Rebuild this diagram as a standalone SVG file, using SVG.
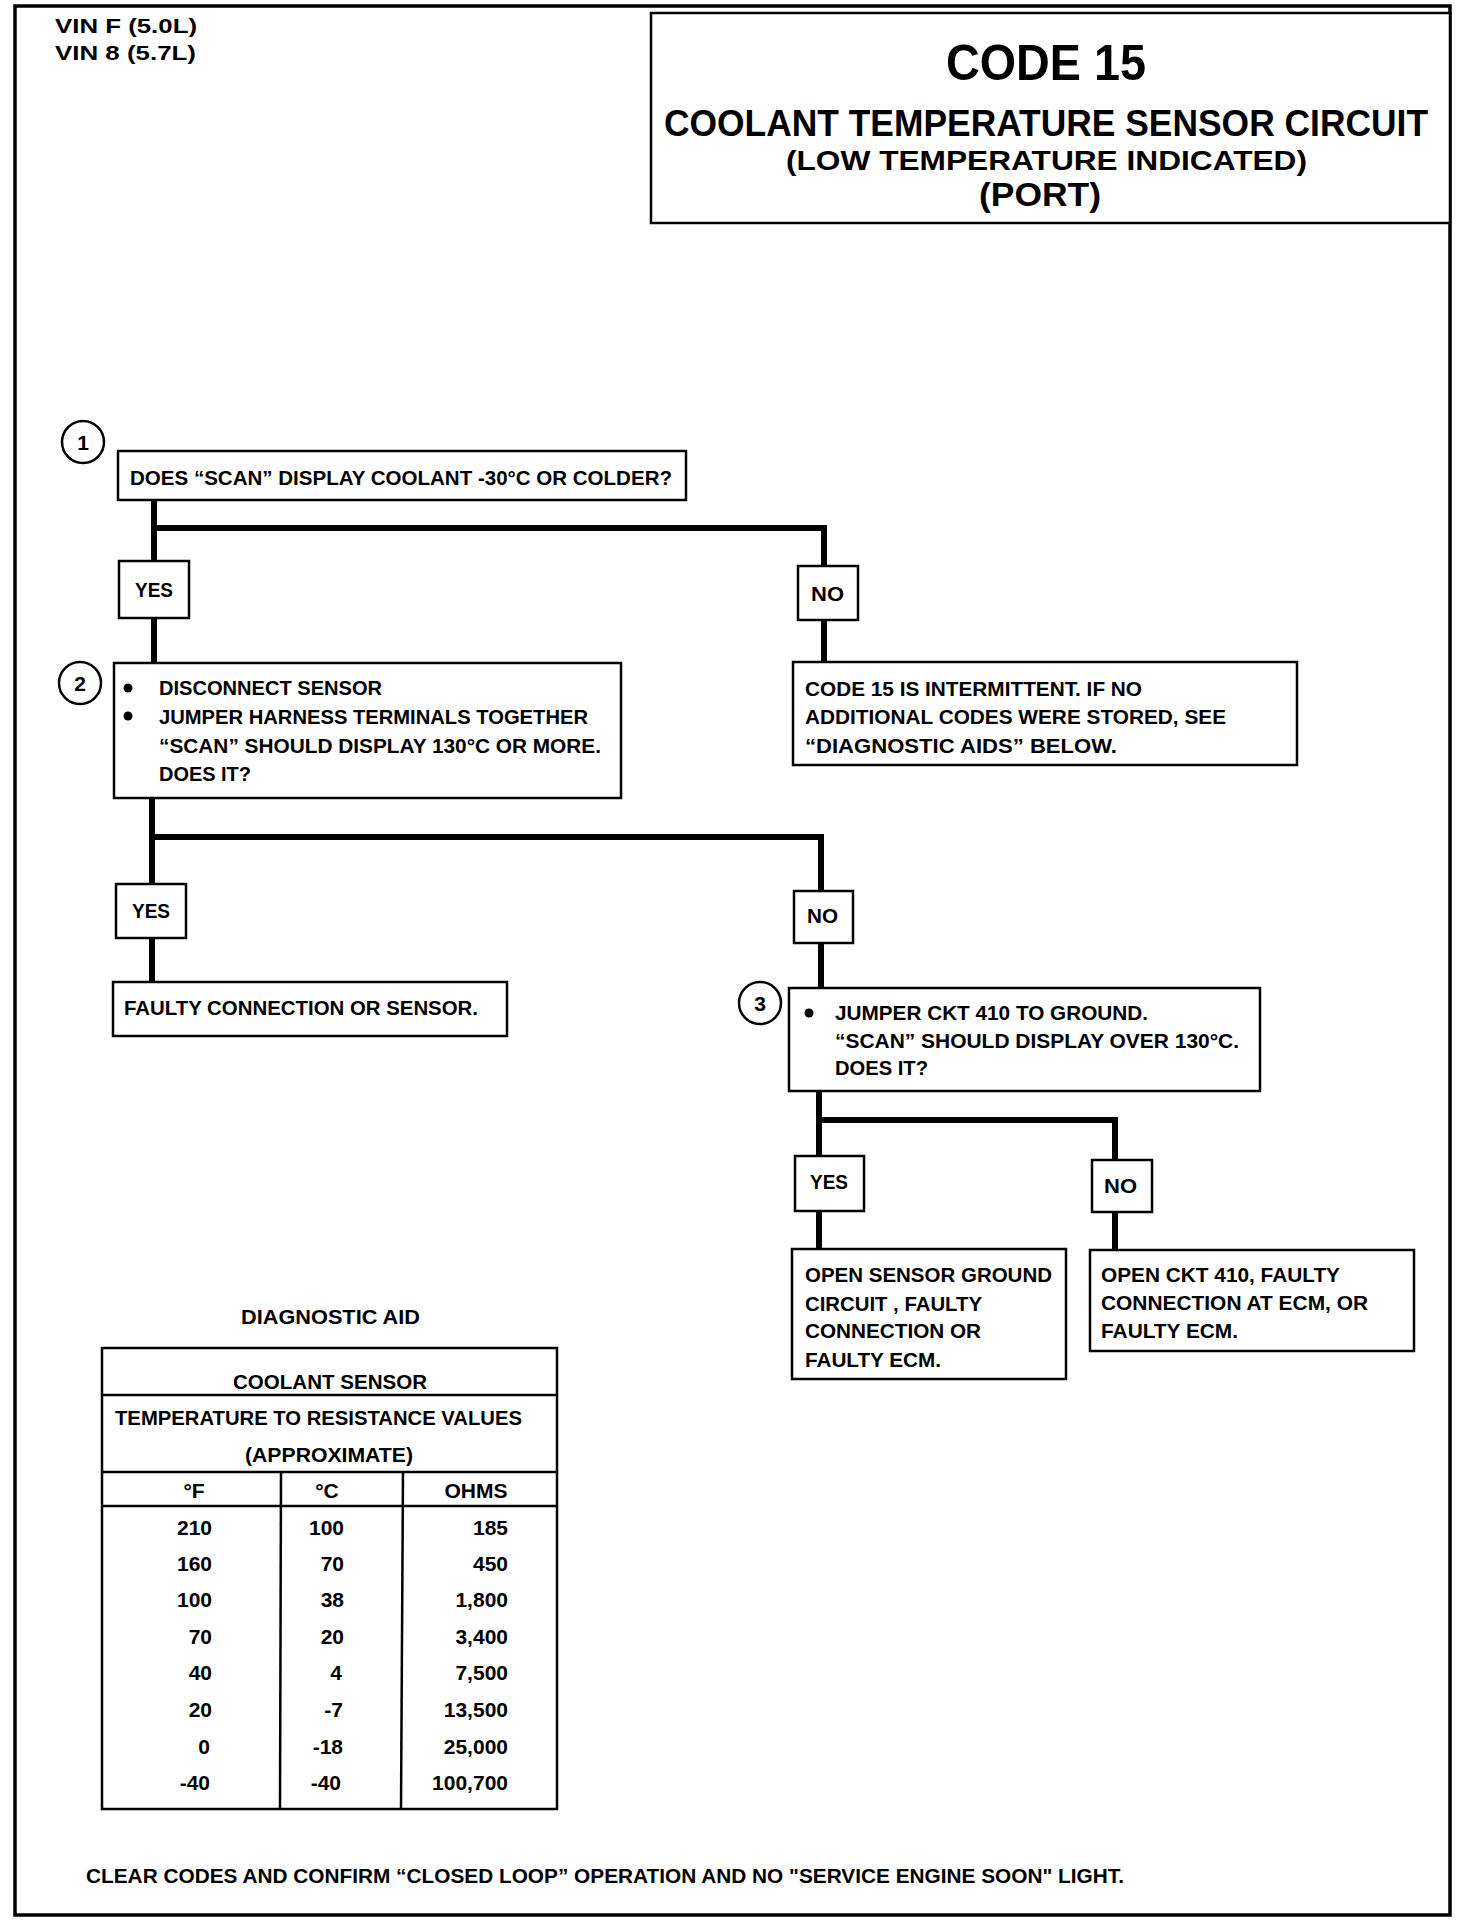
<svg xmlns="http://www.w3.org/2000/svg" width="1472" height="1922" viewBox="0 0 1472 1922">
<style>
.t{font-family:"Liberation Sans Narrow","Liberation Sans",Arial,sans-serif;font-weight:bold;font-size:21px;fill:#000}
.h{font-family:"Liberation Sans Narrow","Liberation Sans",Arial,sans-serif;font-weight:bold;fill:#000}
.box{fill:#fff;stroke:#000;stroke-width:2.5}
.frame{fill:none;stroke:#000;stroke-width:3.5}
.conn{stroke:#000;stroke-width:6;fill:none}
.cell{stroke:#000;stroke-width:2.5;fill:none}
.num{fill:#fff;stroke:#000;stroke-width:2.5}
</style>
<rect width="1472" height="1922" fill="#fff"/>
<rect class="frame" x="15" y="6" width="1435" height="1909"/>
<g id="header">
<text class="h" x="55" y="33" font-size="20" textLength="142" lengthAdjust="spacingAndGlyphs">VIN F (5.0L)</text>
<text class="h" x="55" y="60" font-size="20" textLength="141" lengthAdjust="spacingAndGlyphs">VIN 8 (5.7L)</text>
</g>
<g id="title">
<rect class="box" x="651" y="13" width="799" height="210"/>
<text class="h" x="946" y="80" font-size="50" textLength="200" lengthAdjust="spacingAndGlyphs">CODE 15</text>
<text class="h" x="664" y="136" font-size="36" textLength="764" lengthAdjust="spacingAndGlyphs">COOLANT TEMPERATURE SENSOR CIRCUIT</text>
<text class="h" x="786" y="170" font-size="28" textLength="521" lengthAdjust="spacingAndGlyphs">(LOW TEMPERATURE INDICATED)</text>
<text class="h" x="979" y="206" font-size="33" textLength="122" lengthAdjust="spacingAndGlyphs">(PORT)</text>
</g>
<g id="connectors">
<path class="conn" d="M154 500 V561 M154 618 V664"/>
<path class="conn" d="M154 528 H824 V566 M824 620 V662"/>
<path class="conn" d="M152 798 V884 M152 938 V982"/>
<path class="conn" d="M152 837 H821 V891 M821 943 V988"/>
<path class="conn" d="M819 1091 V1156 M819 1211 V1249"/>
<path class="conn" d="M819 1120 H1115 V1160 M1115 1212 V1250"/>
</g>
<g id="step1">
<circle class="num" cx="83" cy="442" r="21"/>
<text class="t" x="83" y="450" text-anchor="middle">1</text>
<rect class="box" x="118" y="451" width="568" height="49"/>
<text class="t" x="130" y="485" textLength="542" lengthAdjust="spacingAndGlyphs">DOES “SCAN” DISPLAY COOLANT -30°C OR COLDER?</text>
</g>
<g id="yes1">
<rect class="box" x="119" y="561" width="70" height="57"/>
<text class="t" x="135" y="597" textLength="38" lengthAdjust="spacingAndGlyphs">YES</text>
</g>
<g id="no1">
<rect class="box" x="798" y="566" width="60" height="54"/>
<text class="t" x="811" y="601" textLength="33" lengthAdjust="spacingAndGlyphs">NO</text>
</g>
<g id="intermittent">
<rect class="box" x="793" y="662" width="504" height="103"/>
<text class="t" x="805" y="696" textLength="337" lengthAdjust="spacingAndGlyphs">CODE 15 IS INTERMITTENT.  IF NO</text>
<text class="t" x="805" y="724" textLength="421" lengthAdjust="spacingAndGlyphs">ADDITIONAL CODES WERE STORED, SEE</text>
<text class="t" x="805" y="753" textLength="312" lengthAdjust="spacingAndGlyphs">“DIAGNOSTIC AIDS”   BELOW.</text>
</g>
<g id="step2">
<circle class="num" cx="80" cy="683" r="21"/>
<text class="t" x="80" y="691" text-anchor="middle">2</text>
<rect class="box" x="114" y="663" width="507" height="135"/>
<circle cx="128" cy="688" r="4.5"/>
<circle cx="128" cy="716" r="4.5"/>
<text class="t" x="159" y="695" textLength="223" lengthAdjust="spacingAndGlyphs">DISCONNECT SENSOR</text>
<text class="t" x="159" y="724" textLength="429" lengthAdjust="spacingAndGlyphs">JUMPER HARNESS TERMINALS TOGETHER</text>
<text class="t" x="159" y="753" textLength="442" lengthAdjust="spacingAndGlyphs">“SCAN” SHOULD DISPLAY 130°C OR MORE.</text>
<text class="t" x="159" y="781" textLength="92" lengthAdjust="spacingAndGlyphs">DOES IT?</text>
</g>
<g id="yes2">
<rect class="box" x="116" y="884" width="70" height="54"/>
<text class="t" x="132" y="918" textLength="38" lengthAdjust="spacingAndGlyphs">YES</text>
</g>
<g id="faulty">
<rect class="box" x="113" y="982" width="394" height="54"/>
<text class="t" x="124" y="1015" textLength="354" lengthAdjust="spacingAndGlyphs">FAULTY CONNECTION OR SENSOR.</text>
</g>
<g id="no2">
<rect class="box" x="794" y="891" width="59" height="52"/>
<text class="t" x="807" y="923" textLength="31" lengthAdjust="spacingAndGlyphs">NO</text>
</g>
<g id="step3">
<circle class="num" cx="760" cy="1003" r="21"/>
<text class="t" x="760" y="1011" text-anchor="middle">3</text>
<rect class="box" x="789" y="988" width="471" height="103"/>
<circle cx="809" cy="1013" r="4.5"/>
<text class="t" x="835" y="1020" textLength="313" lengthAdjust="spacingAndGlyphs">JUMPER CKT 410 TO GROUND.</text>
<text class="t" x="835" y="1048" textLength="404" lengthAdjust="spacingAndGlyphs">“SCAN” SHOULD DISPLAY OVER 130°C.</text>
<text class="t" x="835" y="1075" textLength="93" lengthAdjust="spacingAndGlyphs">DOES IT?</text>
</g>
<g id="yes3">
<rect class="box" x="795" y="1156" width="69" height="55"/>
<text class="t" x="810" y="1189" textLength="38" lengthAdjust="spacingAndGlyphs">YES</text>
</g>
<g id="no3">
<rect class="box" x="1092" y="1160" width="60" height="52"/>
<text class="t" x="1104" y="1193" textLength="33" lengthAdjust="spacingAndGlyphs">NO</text>
</g>
<g id="open-sensor">
<rect class="box" x="792" y="1249" width="274" height="130"/>
<text class="t" x="805" y="1282" textLength="247" lengthAdjust="spacingAndGlyphs">OPEN SENSOR GROUND</text>
<text class="t" x="805" y="1311" textLength="177" lengthAdjust="spacingAndGlyphs">CIRCUIT , FAULTY</text>
<text class="t" x="805" y="1338" textLength="176" lengthAdjust="spacingAndGlyphs">CONNECTION OR</text>
<text class="t" x="805" y="1367" textLength="136" lengthAdjust="spacingAndGlyphs">FAULTY ECM.</text>
</g>
<g id="open-ckt">
<rect class="box" x="1090" y="1250" width="324" height="101"/>
<text class="t" x="1101" y="1282" textLength="239" lengthAdjust="spacingAndGlyphs">OPEN CKT 410, FAULTY</text>
<text class="t" x="1101" y="1310" textLength="267" lengthAdjust="spacingAndGlyphs">CONNECTION AT ECM, OR</text>
<text class="t" x="1101" y="1338" textLength="137" lengthAdjust="spacingAndGlyphs">FAULTY ECM.</text>
</g>
<g id="diagnostic-aid">
<text class="t" x="241" y="1324" textLength="179" lengthAdjust="spacingAndGlyphs">DIAGNOSTIC AID</text>
<rect class="cell" x="102" y="1348" width="455" height="461"/>
<line class="cell" x1="102" y1="1395" x2="557" y2="1395"/>
<line class="cell" x1="102" y1="1472" x2="557" y2="1472"/>
<line class="cell" x1="102" y1="1506" x2="557" y2="1506"/>
<line class="cell" x1="281" y1="1472" x2="280" y2="1809"/>
<line class="cell" x1="403" y1="1472" x2="401" y2="1809"/>
<text class="t" x="233" y="1389" textLength="194" lengthAdjust="spacingAndGlyphs">COOLANT SENSOR</text>
<text class="t" x="115" y="1425" textLength="407" lengthAdjust="spacingAndGlyphs">TEMPERATURE TO RESISTANCE VALUES</text>
<text class="t" x="245" y="1462" textLength="168" lengthAdjust="spacingAndGlyphs">(APPROXIMATE)</text>
<text class="t" x="194" y="1498" text-anchor="middle">°F</text>
<text class="t" x="327" y="1498" text-anchor="middle">°C</text>
<text class="t" x="476" y="1498" text-anchor="middle">OHMS</text>
<g text-anchor="end">
<text class="t" x="212" y="1535">210</text><text class="t" x="344" y="1535">100</text><text class="t" x="508" y="1535">185</text>
<text class="t" x="212" y="1571">160</text><text class="t" x="344" y="1571">70</text><text class="t" x="508" y="1571">450</text>
<text class="t" x="212" y="1607">100</text><text class="t" x="344" y="1607">38</text><text class="t" x="508" y="1607">1,800</text>
<text class="t" x="212" y="1644">70</text><text class="t" x="344" y="1644">20</text><text class="t" x="508" y="1644">3,400</text>
<text class="t" x="212" y="1680">40</text><text class="t" x="342" y="1680">4</text><text class="t" x="508" y="1680">7,500</text>
<text class="t" x="212" y="1717">20</text><text class="t" x="343" y="1717">-7</text><text class="t" x="508" y="1717">13,500</text>
<text class="t" x="210" y="1754">0</text><text class="t" x="343" y="1754">-18</text><text class="t" x="508" y="1754">25,000</text>
<text class="t" x="210" y="1790">-40</text><text class="t" x="341" y="1790">-40</text><text class="t" x="508" y="1790">100,700</text>
</g>
</g>
<g id="footer">
<text class="t" x="86" y="1883" textLength="1038" lengthAdjust="spacingAndGlyphs">CLEAR CODES AND CONFIRM “CLOSED LOOP”  OPERATION AND NO "SERVICE ENGINE SOON" LIGHT.</text>
</g>
</svg>
